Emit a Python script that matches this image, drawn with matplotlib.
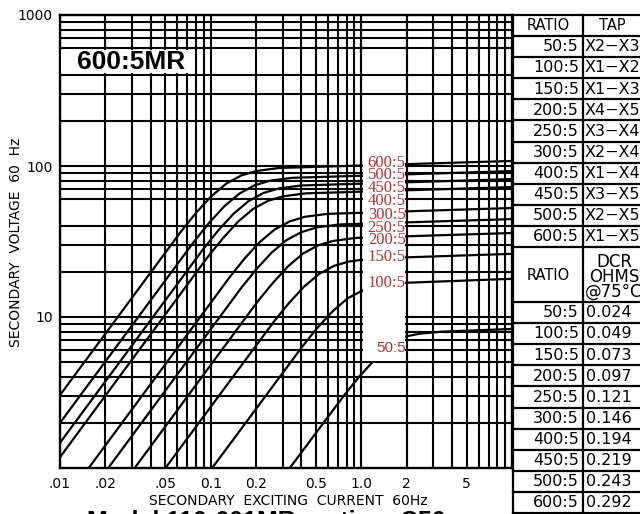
import matplotlib
matplotlib.use('Agg')
import matplotlib.pyplot as plt
from matplotlib.patches import Rectangle
from matplotlib.ticker import FixedLocator, FixedFormatter, NullFormatter

# ---------------- data ----------------
ratios = ["50:5", "100:5", "150:5", "200:5", "250:5", "300:5", "400:5", "450:5", "500:5", "600:5"]
taps = ["X2\u2212X3", "X1\u2212X2", "X1\u2212X3", "X4\u2212X5", "X3\u2212X4",
        "X2\u2212X4", "X1\u2212X4", "X3\u2212X5", "X2\u2212X5", "X1\u2212X5"]
dcr = ["0.024", "0.049", "0.073", "0.097", "0.121", "0.146", "0.194", "0.219", "0.243", "0.292"]

I600 = [0.01, 0.0635, 0.0800, 0.1007, 0.1268, 0.1596, 0.2009, 0.2838, 10]
V600 = [3.04, 36.8, 49.0, 62.9, 76.4, 86.6, 92.7, 97.0, 108.0]
I500 = [0.01, 0.0778, 0.0980, 0.1234, 0.1553, 0.1955, 0.2461, 0.3477, 10]
V500 = [1.99, 31.7, 42.2, 54.2, 65.7, 74.5, 79.8, 83.5, 92.5]
I450 = [0.01, 0.0893, 0.1125, 0.1416, 0.1782, 0.2244, 0.2825, 0.3990, 10]
V450 = [1.47, 28.2, 37.5, 48.2, 58.5, 66.3, 71.0, 74.3, 81.9]
I400 = [0.01, 0.0957, 0.1205, 0.1517, 0.1910, 0.2404, 0.3027, 0.4276, 10]
V400 = [1.18, 25.0, 33.2, 42.7, 51.9, 58.8, 63.0, 65.9, 72.5]
I300 = [0.0155, 0.1334, 0.1679, 0.2113, 0.2661, 0.3350, 0.4217, 0.5957, 10]
V300 = [1.0, 18.3, 24.4, 31.3, 38.0, 43.0, 46.1, 48.2, 52.7]
I250 = [0.0209, 0.1596, 0.2009, 0.2529, 0.3184, 0.4009, 0.5047, 0.7129, 10]
V250 = [1.0, 15.6, 20.7, 26.6, 32.3, 36.5, 39.2, 41.0, 44.5]
I200 = [0.0313, 0.2053, 0.2585, 0.3254, 0.4097, 0.5158, 0.6494, 0.9172, 10]
V200 = [1.0, 12.7, 16.8, 21.6, 26.3, 29.8, 31.9, 33.4, 36.0]
I150 = [0.0501, 0.2614, 0.3291, 0.4143, 0.5216, 0.6566, 0.8266, 1.168, 10]
V150 = [1.0, 9.26, 12.3, 15.8, 19.2, 21.8, 23.3, 24.4, 26.2]
I100 = [0.1023, 0.4064, 0.5117, 0.6442, 0.8110, 1.021, 1.285, 1.816, 10]
V100 = [1.0, 6.39, 8.50, 10.9, 13.3, 15.0, 16.1, 16.8, 17.9]
I50 = [0.335, 0.769, 0.968, 1.219, 1.535, 1.932, 2.432, 3.436, 10]
V50 = [1.0, 3.03, 4.03, 5.18, 6.29, 7.40, 7.75, 8.00, 8.33]

curve_labels = ["600:5", "500:5", "450:5", "400:5", "300:5", "250:5", "200:5", "150:5", "100:5", "50:5"]
label_v = [104.7, 87.2, 71.5, 58.6, 47.4, 38.9, 32.4, 25.0, 16.8, 6.23]

x_major = [0.01, 0.02, 0.05, 0.1, 0.2, 0.5, 1.0, 2, 5]
x_major_labels = [".01", ".02", ".05", "0.1", "0.2", "0.5", "1.0", "2", "5"]
x_minor = [0.03, 0.04, 0.06, 0.07, 0.08, 0.09, 0.3, 0.4, 0.6, 0.7, 0.8, 0.9,
           3, 4, 6, 7, 8, 9]
y_major = [10, 100, 1000]
y_major_labels = ["10", "100", "1000"]
y_minor = [2, 3, 4, 5, 6, 7, 8, 9, 20, 30, 40, 60, 70, 80, 90,
           200, 300, 400, 600, 700, 800, 900]

# ---------------- figure ----------------
fig = plt.figure(figsize=(6.4, 5.14), dpi=100)
ax = fig.add_axes([60/640, 1-468/514, 452/640, 453/514])
ax.set_xscale('log')
ax.set_yscale('log')
ax.set_xlim(0.01, 10)
ax.set_ylim(1, 1000)

ax.xaxis.set_major_locator(FixedLocator(x_major))
ax.xaxis.set_major_formatter(FixedFormatter(x_major_labels))
ax.xaxis.set_minor_locator(FixedLocator(x_minor))
ax.xaxis.set_minor_formatter(NullFormatter())
ax.yaxis.set_major_locator(FixedLocator(y_major))
ax.yaxis.set_major_formatter(FixedFormatter(y_major_labels))
ax.yaxis.set_minor_locator(FixedLocator(y_minor))
ax.yaxis.set_minor_formatter(NullFormatter())
ax.tick_params(which='both', length=0)
ax.tick_params(axis='x', pad=6.5, labelsize=10)
ax.tick_params(axis='y', pad=5, labelsize=10)
ax.set_axisbelow(True)
ax.grid(which='both', color='black', linewidth=1.5)
for s in ax.spines.values():
    s.set_linewidth(1.7)
    s.set_color('black')

curves = [(I600, V600), (I500, V500), (I450, V450), (I400, V400), (I300, V300),
          (I250, V250), (I200, V200), (I150, V150), (I100, V100), (I50, V50)]
for xi, yi in curves:
    ax.plot(xi, yi, color='black', linewidth=1.6, zorder=2, solid_joinstyle='round')

# white label band and label text
ax.add_patch(Rectangle((1.02, 5.1), 0.94, 125, facecolor='white', edgecolor='none', zorder=3))
ax.axvline(1.0, color='black', linewidth=1.5, zorder=4)
ax.axvline(2.0, color='black', linewidth=1.5, zorder=4)
for lab, v in zip(curve_labels, label_v):
    if lab == "50:5":
        ax.text(1.97, v, lab, ha='right', va='center', color='#b03434',
                fontsize=11, family='Liberation Sans', zorder=5)
    else:
        ax.text(1.97, v, lab, ha='right', va='center', color='#b03434',
                fontsize=12, family='Liberation Serif', zorder=5)

# model box
ax.add_patch(Rectangle((0.0102, 410), 0.0683, 180, facecolor='white', edgecolor='none', zorder=3))
ax.text(0.01296, 485, "600:5MR", ha='left', va='center', fontsize=19,
        fontweight='bold', family='Liberation Sans', zorder=5)

# ---------------- overlay for table and outer texts (pixel coords) ----------------
ov = fig.add_axes([0, 0, 1, 1], zorder=10)
ov.set_xlim(0, 640)
ov.set_ylim(514, 0)
ov.axis('off')

lw = 1.6
x_left, x_mid, x_right = 513, 583, 643
top_rows = [15] + [36 + 21.1 * k for k in range(11)]
bot_rows = [302 + 21.1 * k for k in range(11)]
for y in top_rows + bot_rows:
    ov.plot([x_left, x_right], [y, y], color='black', linewidth=lw)
ov.plot([x_left, x_left], [15, 514], color='black', linewidth=lw)
ov.plot([x_mid, x_mid], [15, 514], color='black', linewidth=lw)

ov.text(548, 26, "RATIO", ha='center', va='center', fontsize=10.5)
ov.text(612, 26, "TAP", ha='center', va='center', fontsize=10.5)
for k, (r, t) in enumerate(zip(ratios, taps)):
    yc = 36 + 21.1 * k + 10.8
    ov.text(579, yc, r, ha='right', va='center', fontsize=11.5)
    ov.text(585, yc, t, ha='left', va='center', fontsize=11.5)

ov.text(548, 275, "RATIO", ha='center', va='center', fontsize=10.5)
ov.text(614, 277, "DCR\nOHMS\n@75\u00b0C", ha='center', va='center', fontsize=12,
        linespacing=0.8)
for k, (r, d) in enumerate(zip(ratios, dcr)):
    yc = 302 + 21.1 * k + 10.8
    ov.text(579, yc, r, ha='right', va='center', fontsize=11.5)
    ov.text(586, yc, d, ha='left', va='center', fontsize=11.5)

ov.text(16, 242, "SECONDARY  VOLTAGE  60  Hz", rotation=90, ha='center', va='center', fontsize=10)
ov.text(288, 501, "SECONDARY  EXCITING  CURRENT  60Hz", ha='center', va='center', fontsize=10)
ov.text(87, 510.5, "Model 110-601MR   rating  C50", ha='left', va='top', fontsize=18,
        fontweight='bold', family='Liberation Sans')

fig.savefig('out.png', dpi=100)
